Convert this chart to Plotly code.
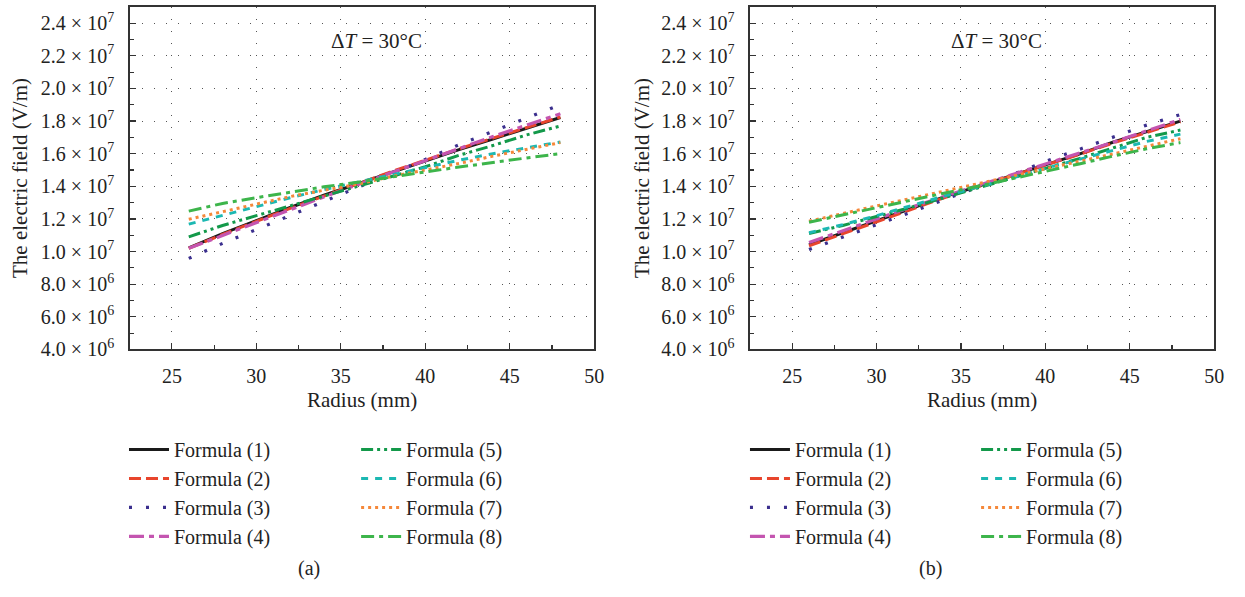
import plotly.graph_objects as go

# ---------------- data ----------------
radius = [26, 28, 30, 32, 34, 36, 38, 40, 42, 44, 46, 48]
series_names = ["Formula (1)", "Formula (2)", "Formula (3)", "Formula (4)",
                "Formula (5)", "Formula (6)", "Formula (7)", "Formula (8)"]

# panel (a)
a_f1 = [1.022e7, 1.110e7, 1.190e7, 1.270e7, 1.345e7, 1.415e7, 1.485e7, 1.555e7, 1.625e7, 1.690e7, 1.757e7, 1.822e7]
a_f2 = [1.020e7, 1.105e7, 1.185e7, 1.265e7, 1.340e7, 1.415e7, 1.490e7, 1.560e7, 1.630e7, 1.695e7, 1.760e7, 1.825e7]
a_f3 = [0.958e7, 1.050e7, 1.135e7, 1.220e7, 1.305e7, 1.395e7, 1.475e7, 1.565e7, 1.655e7, 1.737e7, 1.820e7, 1.900e7]
a_f4 = [1.020e7, 1.100e7, 1.180e7, 1.260e7, 1.335e7, 1.410e7, 1.485e7, 1.560e7, 1.635e7, 1.705e7, 1.775e7, 1.845e7]
a_f5 = [1.090e7, 1.160e7, 1.220e7, 1.280e7, 1.340e7, 1.400e7, 1.460e7, 1.520e7, 1.590e7, 1.650e7, 1.715e7, 1.770e7]
a_f6 = [1.168e7, 1.220e7, 1.275e7, 1.330e7, 1.380e7, 1.425e7, 1.470e7, 1.515e7, 1.560e7, 1.600e7, 1.638e7, 1.672e7]
a_f7 = [1.198e7, 1.245e7, 1.293e7, 1.337e7, 1.376e7, 1.413e7, 1.460e7, 1.500e7, 1.540e7, 1.585e7, 1.625e7, 1.668e7]
a_f8 = [1.248e7, 1.295e7, 1.330e7, 1.365e7, 1.397e7, 1.425e7, 1.458e7, 1.488e7, 1.518e7, 1.548e7, 1.574e7, 1.600e7]

# panel (b)
b_f1 = [1.042e7, 1.115e7, 1.188e7, 1.260e7, 1.335e7, 1.400e7, 1.466e7, 1.532e7, 1.597e7, 1.670e7, 1.735e7, 1.800e7]
b_f2 = [1.035e7, 1.110e7, 1.183e7, 1.256e7, 1.330e7, 1.398e7, 1.465e7, 1.530e7, 1.595e7, 1.665e7, 1.730e7, 1.795e7]
b_f3 = [1.012e7, 1.086e7, 1.165e7, 1.240e7, 1.320e7, 1.395e7, 1.470e7, 1.552e7, 1.626e7, 1.700e7, 1.775e7, 1.840e7]
b_f4 = [1.055e7, 1.130e7, 1.200e7, 1.270e7, 1.340e7, 1.405e7, 1.470e7, 1.535e7, 1.600e7, 1.670e7, 1.740e7, 1.810e7]
b_f5 = [1.110e7, 1.160e7, 1.215e7, 1.270e7, 1.330e7, 1.390e7, 1.450e7, 1.510e7, 1.570e7, 1.635e7, 1.700e7, 1.745e7]
b_f6 = [1.115e7, 1.165e7, 1.220e7, 1.280e7, 1.340e7, 1.395e7, 1.450e7, 1.510e7, 1.565e7, 1.620e7, 1.675e7, 1.720e7]
b_f7 = [1.186e7, 1.235e7, 1.280e7, 1.325e7, 1.370e7, 1.415e7, 1.460e7, 1.505e7, 1.550e7, 1.598e7, 1.645e7, 1.692e7]
b_f8 = [1.180e7, 1.225e7, 1.270e7, 1.315e7, 1.358e7, 1.400e7, 1.445e7, 1.490e7, 1.537e7, 1.585e7, 1.630e7, 1.668e7]

y_tickvals = [4e6, 6e6, 8e6, 1e7, 1.2e7, 1.4e7, 1.6e7, 1.8e7, 2.0e7, 2.2e7, 2.4e7]
y_ticktext = ["4.0 × 10<sup>6</sup>", "6.0 × 10<sup>6</sup>", "8.0 × 10<sup>6</sup>",
              "1.0 × 10<sup>7</sup>", "1.2 × 10<sup>7</sup>", "1.4 × 10<sup>7</sup>",
              "1.6 × 10<sup>7</sup>", "1.8 × 10<sup>7</sup>", "2.0 × 10<sup>7</sup>",
              "2.2 × 10<sup>7</sup>", "2.4 × 10<sup>7</sup>"]
x_tickvals = [25, 30, 35, 40, 45, 50]

# ---------------- styles ----------------
FONT = "Liberation Serif"
TXT = "#222222"
colors = ["#1a1a1a", "#e8452c", "#3b2f8e", "#c455b0",
          "#13994a", "#1cb8b2", "#f5883a", "#3db54b"]
dashes = ["solid", "12px,5px", "3px,14px", "15px,5px,5px,5px",
          "12px,4px,3px,4px,3px,4px", "7px,7px", "3px,4px", "13px,5px,4px,5px"]
widths = [3, 3, 3.2, 3.2, 3, 3, 3, 3]

panels = [
    ([a_f1, a_f2, a_f3, a_f4, a_f5, a_f6, a_f7, a_f8], "x", "y", ("legend", "legend2")),
    ([b_f1, b_f2, b_f3, b_f4, b_f5, b_f6, b_f7, b_f8], "x2", "y2", ("legend3", "legend4")),
]

fig = go.Figure()
for series, xa, ya, legs in panels:
    for i, vals in enumerate(series):
        fig.add_trace(go.Scatter(
            x=radius, y=vals, mode="lines", name=series_names[i],
            line=dict(color=colors[i], width=widths[i], dash=dashes[i]),
            xaxis=xa, yaxis=ya, legend=legs[0] if i < 4 else legs[1],
            showlegend=True, hoverinfo="skip",
        ))

W, H = 1245, 597
def px_x(p):
    return p / W
def px_y(p):
    return 1 - p / H

ydom = [px_y(356), px_y(7)]
axis_common = dict(
    showline=True, linecolor="#333333", linewidth=1.5, mirror=True,
    ticks="inside", ticklen=6, tickwidth=1.2, tickcolor="#333333",
    showgrid=True, gridcolor="#555555", gridwidth=1, griddash="1px,11px",
    zeroline=False,
    tickfont=dict(family=FONT, size=20, color=TXT),
)
xaxis_common = dict(axis_common, range=[22.5, 50], tickvals=x_tickvals,
                    minor=dict(dtick=2.5, tick0=25, ticks="inside", ticklen=4, tickcolor="#333333", showgrid=False),
                    ticklabelstandoff=8)
yaxis_common = dict(axis_common, range=[4e6, 2.5e7], tickvals=y_tickvals, ticktext=y_ticktext,
                    minor=dict(dtick=1e6, tick0=4e6, ticks="inside", ticklen=4, tickcolor="#333333", showgrid=False),
                    ticklabelstandoff=10)

fig.update_layout(
    width=W, height=H,
    margin=dict(l=0, r=0, t=0, b=0),
    paper_bgcolor="white", plot_bgcolor="white",
    font=dict(family=FONT, size=20, color=TXT),
    xaxis=dict(xaxis_common, domain=[px_x(130.7), px_x(599)], anchor="y"),
    yaxis=dict(yaxis_common, domain=ydom, anchor="x"),
    xaxis2=dict(xaxis_common, domain=[px_x(756), px_x(1224)], anchor="y2"),
    yaxis2=dict(yaxis_common, domain=ydom, anchor="x2"),
)

leg_common = dict(font=dict(family=FONT, size=20, color=TXT), bgcolor="rgba(0,0,0,0)",
                  borderwidth=0, yanchor="top", xanchor="left", itemwidth=40,
                  itemclick=False, itemdoubleclick=False, tracegroupgap=0)
fig.update_layout(
    legend=dict(leg_common, x=px_x(125), y=px_y(438)),
    legend2=dict(leg_common, x=px_x(359), y=px_y(438)),
    legend3=dict(leg_common, x=px_x(751), y=px_y(438)),
    legend4=dict(leg_common, x=px_x(984), y=px_y(438)),
)

annotations = []
for xa, ya in (("x", "y"), ("x2", "y2")):
    annotations.append(dict(x=37.1, y=2.29e7, xref=xa, yref=ya, showarrow=False,
                            xanchor="center", yanchor="middle",
                            text="Δ<i>T</i> = 30°C", font=dict(family=FONT, size=21, color=TXT)))
for cx, yx, lab_x, lab in ((364.8, 20, 312, "(a)"), (990, 647, 938, "(b)")):
    annotations.append(dict(x=px_x(cx), y=px_y(408), xref="paper", yref="paper", showarrow=False,
                            xanchor="center", yanchor="middle",
                            text="Radius (mm)", font=dict(family=FONT, size=21, color=TXT)))
    annotations.append(dict(x=px_x(yx), y=px_y(181.5), xref="paper", yref="paper", showarrow=False,
                            xanchor="center", yanchor="middle",
                            text="The electric field (V/m)", textangle=-90,
                            font=dict(family=FONT, size=21, color=TXT)))
    annotations.append(dict(x=px_x(lab_x), y=px_y(579), xref="paper", yref="paper",
                            xanchor="center", yanchor="middle",
                            showarrow=False, text=lab, font=dict(family=FONT, size=20, color=TXT)))
fig.update_layout(annotations=annotations)

fig.write_html("out.html", config={"displayModeBar": False, "staticPlot": True},
               post_script="document.documentElement.style.margin='0px';document.body.style.margin='0px';"
                           "document.documentElement.style.overflow='hidden';document.body.style.overflow='hidden';")
